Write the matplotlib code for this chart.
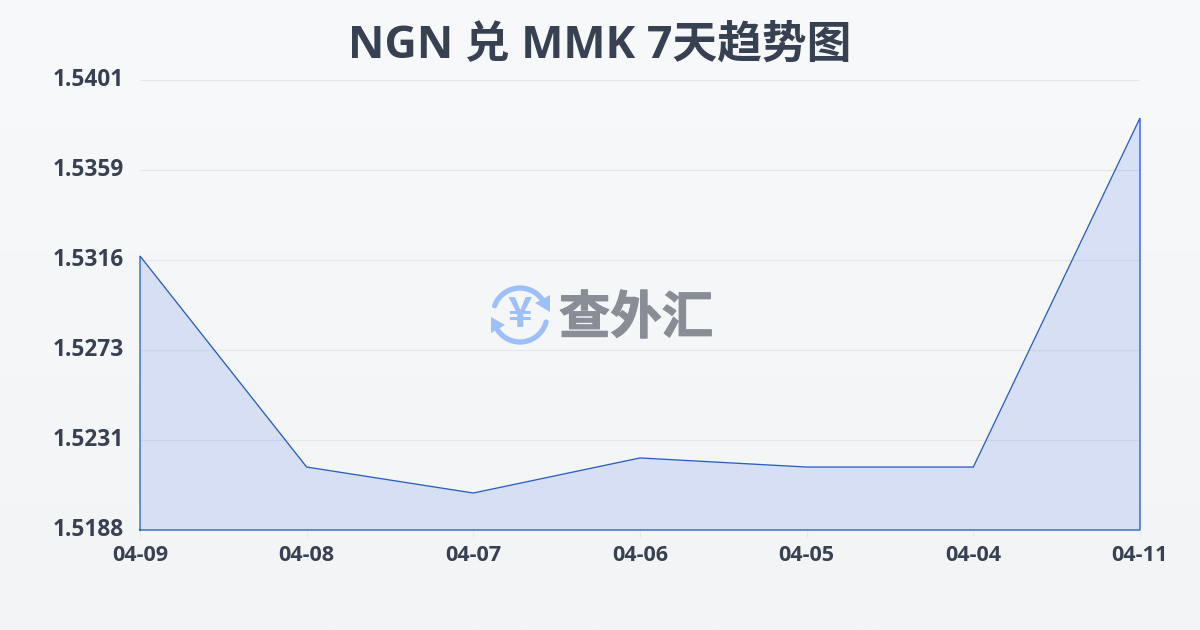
import numpy as np
import matplotlib
matplotlib.use("Agg")
import matplotlib.pyplot as plt
import matplotlib.patheffects as pe
from matplotlib.transforms import ScaledTranslation
from matplotlib.patches import Arc, Polygon

plt.rcParams['font.family'] = ['Open Sans', 'Noto Sans CJK SC', 'DejaVu Sans']

title = "NGN 兑 MMK 7天趋势图"
dates = ["04-09", "04-08", "04-07", "04-06", "04-05", "04-04", "04-11"]
rates = [1.53177, 1.52178, 1.52055, 1.52221, 1.52178, 1.52178, 1.53830]
y_ticks = [1.5188, 1.52306, 1.52732, 1.53158, 1.53584, 1.5401]
y_labels = ["1.5188", "1.5231", "1.5273", "1.5316", "1.5359", "1.5401"]

W, H = 1200, 630
fig = plt.figure(figsize=(W / 100, H / 100), dpi=100)

bg = fig.add_axes([0, 0, 1, 1], zorder=0)
bg.axis("off")
grad = np.linspace(0, 1, 256)[:, None, None]
top = np.array([0xf8, 0xf9, 0xfb]) / 255
bot = np.array([0xf3, 0xf4, 0xf6]) / 255
bg.imshow(top + (bot - top) * grad, aspect="auto", extent=[0, 1, 0, 1])

ax = fig.add_axes([140 / W, (H - 530) / H, 1000 / W, 450 / H], zorder=1)
ax.patch.set_alpha(0)
x = np.arange(len(dates))
ax.set_xlim(0, len(dates) - 1)
ax.set_ylim(y_ticks[0], y_ticks[-1])
ax.set_yticks(y_ticks)
ax.set_yticklabels(y_labels, fontsize=16.3, fontweight="bold", color="#374151")
ax.set_xticks(x)
ax.set_xticklabels(dates, fontsize=15.6, fontweight="bold", color="#374151")
ax.tick_params(axis="y", length=0, pad=11.5)
ax.tick_params(axis="x", length=5, width=0.8, color="#e8e8e4", pad=5.5)
shift = ScaledTranslation(0, 3 / 100, fig.dpi_scale_trans)
for lab in ax.get_yticklabels():
    lab.set_transform(lab.get_transform() + shift)
ax.grid(axis="y", color="#e5e7eb", linewidth=0.9)
ax.set_axisbelow(True)
for s in ax.spines.values():
    s.set_visible(False)

ax.fill_between(x, rates, y_ticks[0], color="#2b62e0", alpha=0.15, linewidth=0, zorder=2)
ax.plot(np.r_[x[0], x, x[-1], x[0]],
        np.r_[y_ticks[0], rates, y_ticks[0], y_ticks[0]],
        color="#2a5fc0", linewidth=0.95, zorder=3, clip_on=False, solid_joinstyle="miter")

fig.text(600 / W, 1 - 46 / H, title, fontsize=32.2, fontweight="bold", color="#374151",
         ha="center", va="center")

ov = fig.add_axes([0, 0, 1, 1], zorder=3)
ov.axis("off")
ov.set_xlim(0, W)
ov.set_ylim(H, 0)
blue = "#9dbffa"
cx, cy, r = 520, 315, 27
# y axis is inverted on this overlay, so arc angles run clockwise on screen
ov.add_patch(Arc((cx, cy), 2 * r, 2 * r, theta1=200, theta2=330, color=blue, lw=3.8, capstyle="round"))
ov.add_patch(Arc((cx, cy), 2 * r, 2 * r, theta1=15, theta2=145, color=blue, lw=3.8, capstyle="round"))
ov.add_patch(Polygon([(550, 295), (550, 312), (535, 303)], closed=True, color=blue, lw=0))
ov.add_patch(Polygon([(491, 317), (491, 333), (505, 325)], closed=True, color=blue, lw=0))
ov.text(cx, cy, "¥", fontsize=30, fontweight="bold", color=blue, ha="center", va="center",
        family=["Noto Sans CJK SC", "DejaVu Sans"])
ov.text(636, 318, "查外汇", fontsize=37, fontweight="bold", color="#888d96", ha="center", va="center",
        family=["Noto Sans CJK SC", "DejaVu Sans"],
        path_effects=[pe.withStroke(linewidth=0.8, foreground="#888d96")])

fig.savefig("out.png", dpi=100)
